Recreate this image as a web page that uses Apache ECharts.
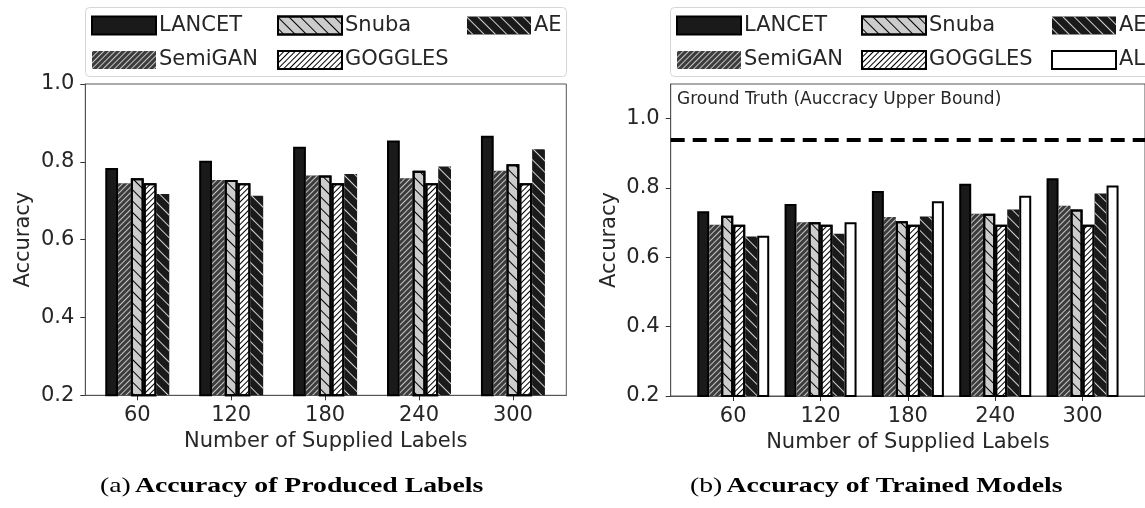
<!DOCTYPE html>
<html><head><meta charset="utf-8">
<script src="https://cdn.jsdelivr.net/npm/echarts@6/dist/echarts.min.js"></script>
<style>html,body{margin:0;padding:0;background:#fff}#c{width:1145px;height:508px}</style>
</head><body><div id="c"></div>
<script>
// ---- data ----
const categories = [60, 120, 180, 240, 300];
const labelsLANCET  = [0.784, 0.803, 0.839, 0.855, 0.867];
const labelsSemiGAN = [0.745, 0.753, 0.765, 0.758, 0.777];
const labelsSnuba   = [0.758, 0.753, 0.765, 0.777, 0.794];
const labelsGOGGLES = [0.745, 0.745, 0.745, 0.745, 0.745];
const labelsAE      = [0.717, 0.713, 0.769, 0.788, 0.832];
const modelsLANCET  = [0.733, 0.754, 0.791, 0.812, 0.828];
const modelsSemiGAN = [0.694, 0.701, 0.716, 0.726, 0.749];
const modelsSnuba   = [0.720, 0.701, 0.704, 0.726, 0.738];
const modelsGOGGLES = [0.694, 0.694, 0.694, 0.694, 0.694];
const modelsAE      = [0.660, 0.668, 0.718, 0.738, 0.784];
const modelsAL      = [0.662, 0.701, 0.762, 0.778, 0.807];
const groundTruth = 0.94;
const yTicks = [0.2, 0.4, 0.6, 0.8, 1.0];
const groundTruthText = 'Ground Truth (Auccracy Upper Bound)';
const xName = 'Number of Supplied Labels';
const yName = 'Accuracy';

// ---- styles ----
const FONT = 'DejaVu Sans';
const TXT = '#262626';
const FRAME = '#555';
function hatch(rot, thick, gap, color) {
  return {symbol: 'rect', symbolSize: 1, dashArrayX: [1, 0], dashArrayY: [thick, gap], rotation: rot, color: color};
}
const S = -Math.PI / 4, B = Math.PI / 4;
const styles = {
  LANCET:  {color: '#1a1a1a', borderColor: '#000', borderWidth: 2},
  SemiGAN: {color: '#3c3c3c', borderColor: '#2a2a2a', borderWidth: 0, decal: hatch(S, 1, 3, '#c4c4c4')},
  Snuba:   {color: '#cccccc', borderColor: '#000', borderWidth: 2, decal: hatch(B, 1, 7, '#000')},
  GOGGLES: {color: '#ffffff', borderColor: '#000', borderWidth: 2, decal: hatch(S, 1, 3, '#000')},
  AE:      {color: '#1a1a1a', borderColor: '#1a1a1a', borderWidth: 0, decal: hatch(B, 1, 7, '#d0d0d0')},
  AL:      {color: '#ffffff', borderColor: '#000', borderWidth: 2}
};

function mk(name, values, idx, bw) {
  return {
    name: name, type: 'bar', xAxisIndex: idx, yAxisIndex: idx,
    barWidth: bw, barGap: '0%',
    data: categories.map((c, i) => [c, values[i]]),
    itemStyle: styles[name], emphasis: {disabled: true}, silent: true
  };
}

const series = [
  mk('LANCET', labelsLANCET, 0, 12.8),
  mk('SemiGAN', labelsSemiGAN, 0, 12.8),
  mk('Snuba', labelsSnuba, 0, 12.8),
  mk('GOGGLES', labelsGOGGLES, 0, 12.8),
  mk('AE', labelsAE, 0, 12.8),
  mk('LANCET', modelsLANCET, 1, 12),
  mk('SemiGAN', modelsSemiGAN, 1, 12),
  mk('Snuba', modelsSnuba, 1, 12),
  mk('GOGGLES', modelsGOGGLES, 1, 12),
  mk('AE', modelsAE, 1, 12),
  mk('AL', modelsAL, 1, 12)
];
series[series.length - 1].markLine = {
  silent: true, symbol: 'none', label: {show: false},
  lineStyle: {color: '#000', width: 4, type: [14, 8]},
  data: [{yAxis: groundTruth}]
};

function xAxis(idx, min, max) {
  return {
    type: 'value', gridIndex: idx, min: min, max: max,
    axisLine: {show: true, lineStyle: {color: FRAME}},
    axisTick: {show: true, length: 5, lineStyle: {color: '#333'}, customValues: categories},
    axisLabel: {fontFamily: FONT, fontSize: 21, color: TXT, margin: 10, customValues: categories},
    splitLine: {show: false},
    name: xName, nameLocation: 'middle', nameGap: 36,
    nameTextStyle: {fontFamily: FONT, fontSize: 21, color: TXT}
  };
}
function yAxis(idx, max) {
  return {
    type: 'value', gridIndex: idx, min: 0.2, max: max,
    axisLine: {show: true, lineStyle: {color: FRAME}},
    axisTick: {show: true, length: 5, lineStyle: {color: '#333'}, customValues: yTicks},
    axisLabel: {fontFamily: FONT, fontSize: 21, color: TXT, margin: 11, customValues: yTicks,
      formatter: v => Number(v).toFixed(1)},
    splitLine: {show: false},
    name: yName, nameLocation: 'middle', nameGap: 51,
    nameTextStyle: {fontFamily: FONT, fontSize: 21, color: TXT}
  };
}

function legend(left, data) {
  return {
    orient: 'vertical', left: left, top: 15, padding: 0, itemGap: 13.5,
    itemWidth: 64, itemHeight: 18, icon: 'rect', selectedMode: false,
    textStyle: {fontFamily: FONT, fontSize: 21, color: TXT, lineHeight: 21, padding: [0, 0, 0, -2]},
    data: data
  };
}

function caption(x, tag, title) {
  return {type: 'text', x: x, y: 475, scaleX: 1.26, style: {text: '{n|' + tag + '} {b|' + title + '}',
    rich: {n: {font: '22px "Liberation Serif"', fill: '#000'}, b: {font: 'bold 22px "Liberation Serif"', fill: '#000'}}}};
}

const chart = echarts.init(document.getElementById('c'), null, {renderer: 'canvas'});
chart.setOption({
  animation: false,
  backgroundColor: '#fff',
  grid: [
    {left: 85.3, top: 84, width: 481, height: 311.3, show: true, borderColor: FRAME, borderWidth: 1, containLabel: false},
    {left: 670.7, top: 84, width: 478, height: 312, show: true, borderColor: FRAME, borderWidth: 1, containLabel: false}
  ],
  xAxis: [xAxis(0, 26.8, 334.1), xAxis(1, 17.05, 342.9)],
  yAxis: [yAxis(0, 1.0), yAxis(1, 1.1)],
  legend: [
    legend(91, ['LANCET', 'SemiGAN']), legend(277, ['Snuba', 'GOGGLES']), legend(467, ['AE']),
    legend(676, ['LANCET', 'SemiGAN']), legend(861, ['Snuba', 'GOGGLES']), legend(1051, ['AE', 'AL'])
  ],
  graphic: [
    {type: 'rect', z: -1, shape: {x: 85.5, y: 7.5, width: 481, height: 69, r: 4}, style: {fill: '#fff', stroke: '#d6d6d6', lineWidth: 1}},
    {type: 'rect', z: -1, shape: {x: 670.5, y: 7.5, width: 480, height: 69, r: 4}, style: {fill: '#fff', stroke: '#d6d6d6', lineWidth: 1}},
    {type: 'text', left: 677, top: 91, style: {text: groundTruthText, font: '17px "DejaVu Sans"', fill: TXT}},
    caption(100, '(a)', 'Accuracy of Produced Labels'),
    caption(690, '(b)', 'Accuracy of Trained Models')
  ],
  series: series
});
</script></body></html>
